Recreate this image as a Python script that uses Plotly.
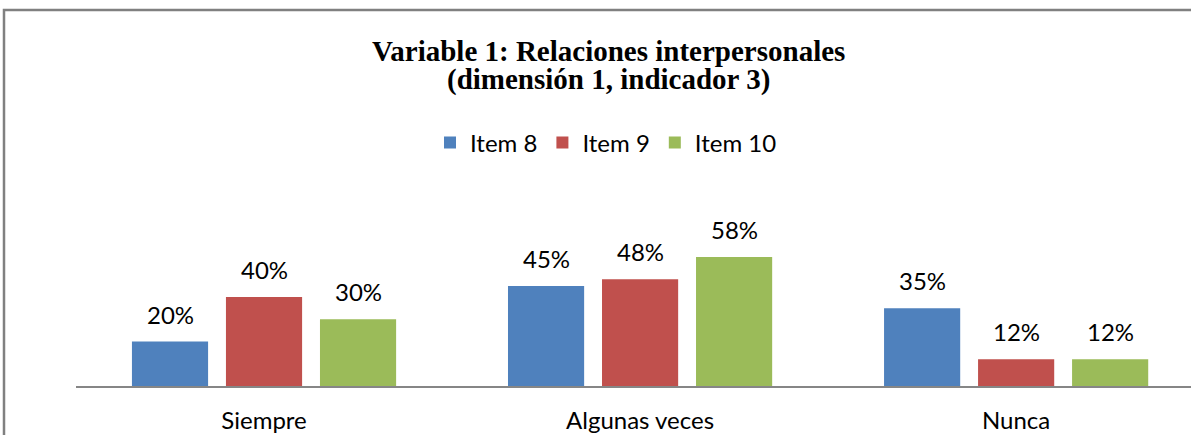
import plotly.graph_objects as go

categories = ["Siempre", "Algunas veces", "Nunca"]
series_names = ["Item 8", "Item 9", "Item 10"]
item8 = [20, 45, 35]
item9 = [40, 48, 12]
item10 = [30, 58, 12]
colors = ["#4F81BD", "#C0504D", "#9BBB59"]
title_line1 = "Variable 1: Relaciones interpersonales"
title_line2 = "(dimensión 1, indicador 3)"

W, H = 1191, 435
ML, MR, MT, MB = 76, 0, 230, 49
PW = W - ML - MR
PH = H - MT - MB

def px_x(p):
    return (p - ML) / PW

def px_y(p):
    return (H - MB - p) / PH

fig = go.Figure()
all_series = [item8, item9, item10]
for name, vals, col in zip(series_names, all_series, colors):
    fig.add_trace(go.Bar(name=name, x=categories, y=vals, marker_color=col,
                         marker_line_width=0))

# data labels via annotations (offset per series slot within group)
slot = 0.25
annotations = []
for si, vals in enumerate(all_series):
    off = (si - 1) * slot
    for ci, v in enumerate(vals):
        annotations.append(dict(x=ci + off, y=v, xref="x", yref="y",
                                text=f"{v}%", showarrow=False, yanchor="bottom",
                                yshift=11, font=dict(family="Lato", size=24, color="#000000")))

annotations.append(dict(x=px_x(608), y=px_y(51), xref="paper", yref="paper",
                        text=f"<b>{title_line1}</b>", showarrow=False, yanchor="middle",
                        xanchor="center",
                        font=dict(family="Liberation Serif", size=29, color="#000000")))
annotations.append(dict(x=px_x(608), y=px_y(79), xref="paper", yref="paper",
                        text=f"<b>{title_line2}</b>", showarrow=False, yanchor="middle",
                        xanchor="center",
                        font=dict(family="Liberation Serif", size=29, color="#000000")))

fig.update_layout(
    width=W, height=H,
    margin=dict(l=ML, r=MR, t=MT, b=MB, pad=0),
    paper_bgcolor="white", plot_bgcolor="white",
    barmode="group", bargap=0.25, bargroupgap=0.19,
    showlegend=True,
    legend=dict(orientation="h", x=px_x(606), xanchor="center", y=px_y(143), yanchor="middle",
                font=dict(family="Lato", size=24, color="#000000"),
                itemwidth=30, tracegroupgap=0, bgcolor="rgba(0,0,0,0)"),
    annotations=annotations,
    shapes=[dict(type="rect", xref="paper", yref="paper",
                 x0=px_x(4), x1=px_x(W + 40), y0=px_y(10), y1=px_y(H + 40),
                 line=dict(color="#808080", width=2.5), fillcolor="rgba(0,0,0,0)", layer="above")],
)
fig.update_xaxes(type="category", range=[-0.5, 2.465], showline=True, linecolor="#868686",
                 linewidth=2, ticks="", showgrid=False, zeroline=False,
                 tickfont=dict(family="Lato", size=24, color="#000000"), ticklabelstandoff=12)
fig.update_yaxes(range=[0, PH / 2.224], visible=False, showgrid=False, zeroline=False)

fig.write_html("out.html", config={"displayModeBar": False},
               post_script="document.body.style.margin='0';document.body.style.overflow='hidden';")
